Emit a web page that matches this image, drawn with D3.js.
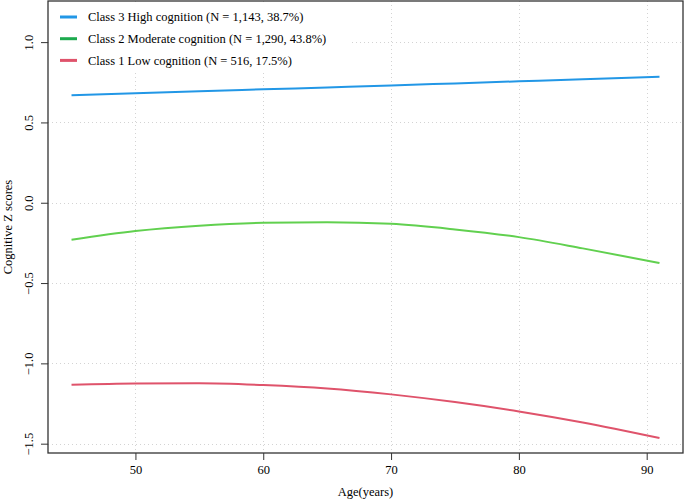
<!DOCTYPE html>
<html>
<head>
<meta charset="utf-8">
<script src="https://cdn.jsdelivr.net/npm/d3@7"></script>
<style>
  html, body { margin: 0; padding: 0; background: #fff; }
  svg { display: block; }
  text { font-family: "Liberation Serif", "Times New Roman", serif; fill: #000; }
</style>
</head>
<body>
<svg id="chart" width="685" height="500"></svg>
<script>
// ---- data ----
const ages = [45, 50, 55, 60, 65, 70, 75, 80, 85, 91];
const highCognition = [0.669, 0.681, 0.694, 0.706, 0.718, 0.730, 0.743, 0.756, 0.769, 0.785];
const moderateCognition = [-0.230, -0.176, -0.143, -0.125, -0.121, -0.131, -0.166, -0.214, -0.284, -0.375];
const lowCognition = [-1.133, -1.125, -1.124, -1.135, -1.156, -1.193, -1.241, -1.299, -1.368, -1.465];
const xTicks = [50, 60, 70, 80, 90];
const yTicks = [-1.5, -1.0, -0.5, 0.0, 0.5, 1.0];
const seriesNames = [
  "Class 3 High cognition (N = 1,143, 38.7%)",
  "Class 2 Moderate cognition (N = 1,290, 43.8%)",
  "Class 1 Low cognition (N = 516, 17.5%)"
];
const lineColors = ["#2297E6", "#61D04F", "#DF536B"];
const legendColors = ["#2297E6", "#1DAA4E", "#DF536B"];

// ---- layout ----
const svg = d3.select("#chart");
const pLeft = 48, pRight = 683, pTop = 1, pBottom = 453;
const x = d3.scaleLinear().domain([43.16, 92.84]).range([pLeft, pRight]);
const y = d3.scaleLinear().domain([-1.558, 1.256]).range([pBottom, pTop]);

// grid (dotted light gray)
const grid = svg.append("g");
grid.selectAll("line.vx").data(xTicks).join("line")
  .attr("x1", d => Math.round(x(d)) + 0.5).attr("x2", d => Math.round(x(d)) + 0.5)
  .attr("y1", pTop).attr("y2", pBottom)
  .attr("stroke", "#d3d3d3").attr("stroke-width", 1).attr("stroke-dasharray", "1,3");
grid.selectAll("line.hy").data(yTicks).join("line")
  .attr("y1", d => Math.round(y(d)) + 0.5).attr("y2", d => Math.round(y(d)) + 0.5)
  .attr("x1", pLeft).attr("x2", pRight)
  .attr("stroke", "#d3d3d3").attr("stroke-width", 1).attr("stroke-dasharray", "1,3");

// lines
const series = [highCognition, moderateCognition, lowCognition];
const lineGen = d3.line().x((d, i) => x(ages[i])).y(d => y(d)).curve(d3.curveMonotoneX);
svg.append("g").selectAll("path").data(series).join("path")
  .attr("d", d => lineGen(d))
  .attr("fill", "none")
  .attr("stroke", (d, i) => lineColors[i])
  .attr("stroke-width", 2);

// legend with white background
const lg = svg.append("g");
lg.append("rect").attr("x", pLeft + 1).attr("y", pTop + 1).attr("width", 300).attr("height", 68).attr("fill", "#fff");
const items = lg.selectAll("g.item").data(seriesNames).join("g")
  .attr("transform", (d, i) => `translate(0, ${17 + i * 21.7})`);
items.append("line")
  .attr("x1", 60).attr("x2", 77).attr("y1", 0).attr("y2", 0)
  .attr("stroke", (d, i) => legendColors[i]).attr("stroke-width", 3);
items.append("text")
  .attr("x", 88).attr("y", 0).attr("dy", "0.35em")
  .attr("font-size", 12.5)
  .text(d => d);

// axes
const xAxis = d3.axisBottom(x).tickValues(xTicks).tickSize(7).tickPadding(5).tickFormat(d3.format("d"));
const gx = svg.append("g").attr("transform", `translate(0, ${pBottom})`).call(xAxis);
gx.select(".domain").remove();
gx.selectAll("line").attr("stroke", "#333");
gx.selectAll("text").attr("font-size", 12.5).attr("font-family", "Liberation Serif");

const fmtY = d => d3.format(".1f")(d).replace("-", "\u2212");
const yAxis = d3.axisLeft(y).tickValues(yTicks).tickSize(7).tickFormat(fmtY);
const gy = svg.append("g").attr("transform", `translate(${pLeft}, 0)`).call(yAxis);
gy.select(".domain").remove();
gy.selectAll("line").attr("stroke", "#333");
gy.selectAll("text")
  .attr("font-size", 12.5).attr("font-family", "Liberation Serif")
  .attr("x", 0).attr("dy", 0)
  .attr("text-anchor", "middle")
  .attr("transform", "translate(-15,0) rotate(-90)");

// box
svg.append("rect").attr("x", pLeft).attr("y", pTop).attr("width", pRight - pLeft).attr("height", pBottom - pTop)
  .attr("fill", "none").attr("stroke", "#333").attr("stroke-width", 1.3);

// axis titles
svg.append("text").attr("x", (pLeft + pRight) / 2).attr("y", 496)
  .attr("text-anchor", "middle").attr("font-size", 12.5).text("Age(years)");
svg.append("text")
  .attr("transform", `translate(12, ${(pTop + pBottom) / 2}) rotate(-90)`)
  .attr("text-anchor", "middle").attr("font-size", 12.5).text("Cognitive Z scores");
</script>
</body>
</html>
